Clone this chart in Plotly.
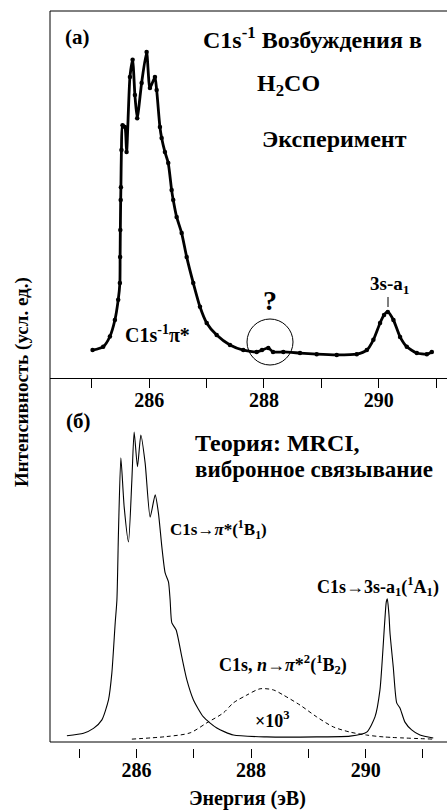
import plotly.graph_objects as go

W, H = 447, 810

# ---- Top panel (a): experiment ----
exp_energy = [285.012, 285.197, 285.314, 285.401, 285.459, 285.488, 285.492, 285.496, 285.502,
              285.506, 285.515, 285.535, 285.576, 285.605, 285.663, 285.710, 285.750, 285.790,
              285.867, 285.954, 286.012, 286.099, 286.129, 286.186, 286.216, 286.273, 286.331,
              286.390, 286.418, 286.477, 286.565, 286.652, 286.767, 286.884, 287.001, 287.175,
              287.407, 287.639, 287.873, 287.965, 288.075, 288.157, 288.337, 288.628, 288.919,
              289.268, 289.617, 289.792, 289.907, 290.023, 290.093, 290.158, 290.256, 290.372,
              290.489, 290.664, 290.838, 290.925]
exp_intensity = [7.6, 8.5, 11.3, 15.8, 21.3, 25.9, 33.0, 40.3, 48.5,
                 52.0, 62.1, 68.9, 68.4, 61.6, 82.0, 86.7, 77.1, 70.8,
                 80.4, 88.8, 79.0, 82.0, 78.5, 68.4, 65.4, 61.6, 58.6,
                 51.2, 48.5, 43.9, 39.5, 33.0, 25.9, 19.4, 15.0, 11.7,
                 9.0, 7.6, 7.1, 7.6, 8.2, 7.1, 7.1, 6.8, 6.5,
                 6.3, 6.5, 7.6, 10.4, 15.0, 17.2, 18.0, 15.8, 11.2,
                 8.5, 6.8, 6.5, 7.1]

# ---- Bottom panel (б): theory ----
theory_energy = [284.785, 285.075, 285.249, 285.396, 285.511, 285.570, 285.628, 285.658, 285.686,
                 285.727, 285.785, 285.860, 285.919, 285.959, 286.017, 286.076, 286.151, 286.238,
                 286.326, 286.383, 286.443, 286.500, 286.558, 286.587, 286.617, 286.692, 286.791,
                 286.879, 286.994, 287.168, 287.402, 287.691, 288.274, 289.146, 289.727, 290.018,
                 290.163, 290.250, 290.329, 290.360, 290.378, 290.407, 290.425, 290.482, 290.542,
                 290.599, 290.686, 290.803, 290.948, 291.180]
theory_intensity = [3.3, 4.0, 5.3, 7.6, 13.0, 20.3, 33.8, 40.0, 58.9,
                    78.4, 65.1, 55.7, 72.4, 85.4, 76.0, 84.6, 77.0, 62.4,
                    68.4, 63.5, 54.3, 47.3, 44.9, 40.0, 33.8, 31.9, 24.6,
                    18.4, 13.0, 8.4, 5.4, 3.5, 3.0, 3.0, 3.2, 4.3,
                    8.4, 15.7, 33.2, 39.5, 40.3, 36.0, 31.1, 21.9, 12.2,
                    10.8, 7.0, 4.9, 3.5, 2.7]

double_energy = [285.919, 286.530, 286.936, 287.227, 287.517, 287.691, 287.925, 288.157, 288.389,
                 288.564, 288.855, 289.146, 289.436, 289.727, 290.018, 290.308, 291.180]
double_intensity = [2.4, 3.1, 4.1, 6.8, 9.5, 12.2, 14.3, 16.0, 15.7,
                    14.3, 11.6, 8.4, 5.7, 4.3, 3.5, 3.0, 2.4]

tick_values = [285, 286, 287, 288, 289, 290, 291]
tick_labels = ["", "286", "", "288", "", "290", ""]

FONT = "Liberation Serif"


def px(x):
    return x / W


def py(y):
    return 1 - y / H


fig = go.Figure()
fig.add_trace(go.Scatter(x=exp_energy, y=exp_intensity, mode="lines+markers",
                         line=dict(color="black", width=2.8, shape="spline", smoothing=0.6),
                         marker=dict(color="black", size=4.5),
                         xaxis="x", yaxis="y", hoverinfo="skip"))
fig.add_trace(go.Scatter(x=theory_energy, y=theory_intensity, mode="lines",
                         line=dict(color="black", width=1.1, shape="spline", smoothing=0.6),
                         xaxis="x2", yaxis="y2", hoverinfo="skip"))
fig.add_trace(go.Scatter(x=double_energy, y=double_intensity, mode="lines",
                         line=dict(color="black", width=1, dash="4px,3px",
                                   shape="spline", smoothing=0.8),
                         xaxis="x2", yaxis="y2", hoverinfo="skip"))

axis_common = dict(tickvals=tick_values, ticktext=tick_labels, ticks="outside",
                   ticklen=9, tickwidth=1, tickcolor="black", showgrid=False,
                   zeroline=False, ticklabelstandoff=-5,
                   tickfont=dict(family=FONT, size=20, color="black", weight="bold"))

fig.update_layout(
    width=W, height=H, margin=dict(l=0, r=0, t=0, b=0),
    paper_bgcolor="white", plot_bgcolor="white", showlegend=False,
    xaxis=dict(domain=[px(50), 1], range=[284.27, 291.19], anchor="y",
               showline=True, linecolor="black", linewidth=1, **axis_common),
    yaxis=dict(domain=[py(378), py(11)], range=[0, 100], visible=False, anchor="x"),
    xaxis2=dict(domain=[px(50), 1], range=[284.49, 291.42], anchor="y2",
                showline=False, **axis_common),
    yaxis2=dict(domain=[py(748), py(378)], range=[0, 100], visible=False, anchor="x2"),
)


def line(x0, y0, x1, y1, w=1):
    fig.add_shape(type="line", xref="paper", yref="paper",
                  x0=px(x0), y0=py(y0), x1=px(x1), y1=py(y1),
                  line=dict(color="black", width=w))


line(50, 11, 447, 11)
line(50, 11, 50, 742)
line(50, 742, 447, 742)
line(388, 297, 388, 307)
fig.add_shape(type="circle", xref="paper", yref="paper",
              x0=px(247), x1=px(293), y0=py(365), y1=py(319),
              line=dict(color="black", width=1))


def ann(text, x, y, size, xanchor="center", angle=None):
    kw = dict(textangle=angle) if angle is not None else {}
    fig.add_annotation(text=text, xref="paper", yref="paper", x=px(x), y=py(y),
                       xanchor=xanchor, yanchor="middle", showarrow=False,
                       font=dict(family=FONT, size=size, color="black", weight="bold"), **kw)


ann("(a)", 77, 37, 21)
ann("C1s<sup>-1</sup> Возбуждения в", 312, 38, 24)
ann("H<sub>2</sub>CO", 288, 85, 24)
ann("Эксперимент", 334, 139, 24)
ann("?", 270, 301, 28)
ann("C1s<sup>-1</sup>π*", 157, 334, 20)
ann("3s-a<sub>1</sub>", 389, 285, 19)

ann("(б)", 78, 421, 21)
ann("Теория: MRCI,", 193, 443, 24, xanchor="left")
ann("вибронное связывание", 193, 469, 23, xanchor="left")
ann("C1s→<i>π</i>*(<sup>1</sup>B<sub>1</sub>)", 168, 529, 17, xanchor="left")
ann("C1s→3s-a<sub>1</sub>(<sup>1</sup>A<sub>1</sub>)", 315, 586, 18, xanchor="left")
ann("C1s, <i>n</i>→<i>π</i>*<sup>2</sup>(<sup>1</sup>B<sub>2</sub>)", 217, 664, 18, xanchor="left")
ann("×10<sup>3</sup>", 272, 719, 18)

ann("Энергия (эВ)", 247, 798, 20)
ann("Интенсивность (усл. ед.)", 22, 382, 19, angle=-90)

fig.write_html("out.html")
